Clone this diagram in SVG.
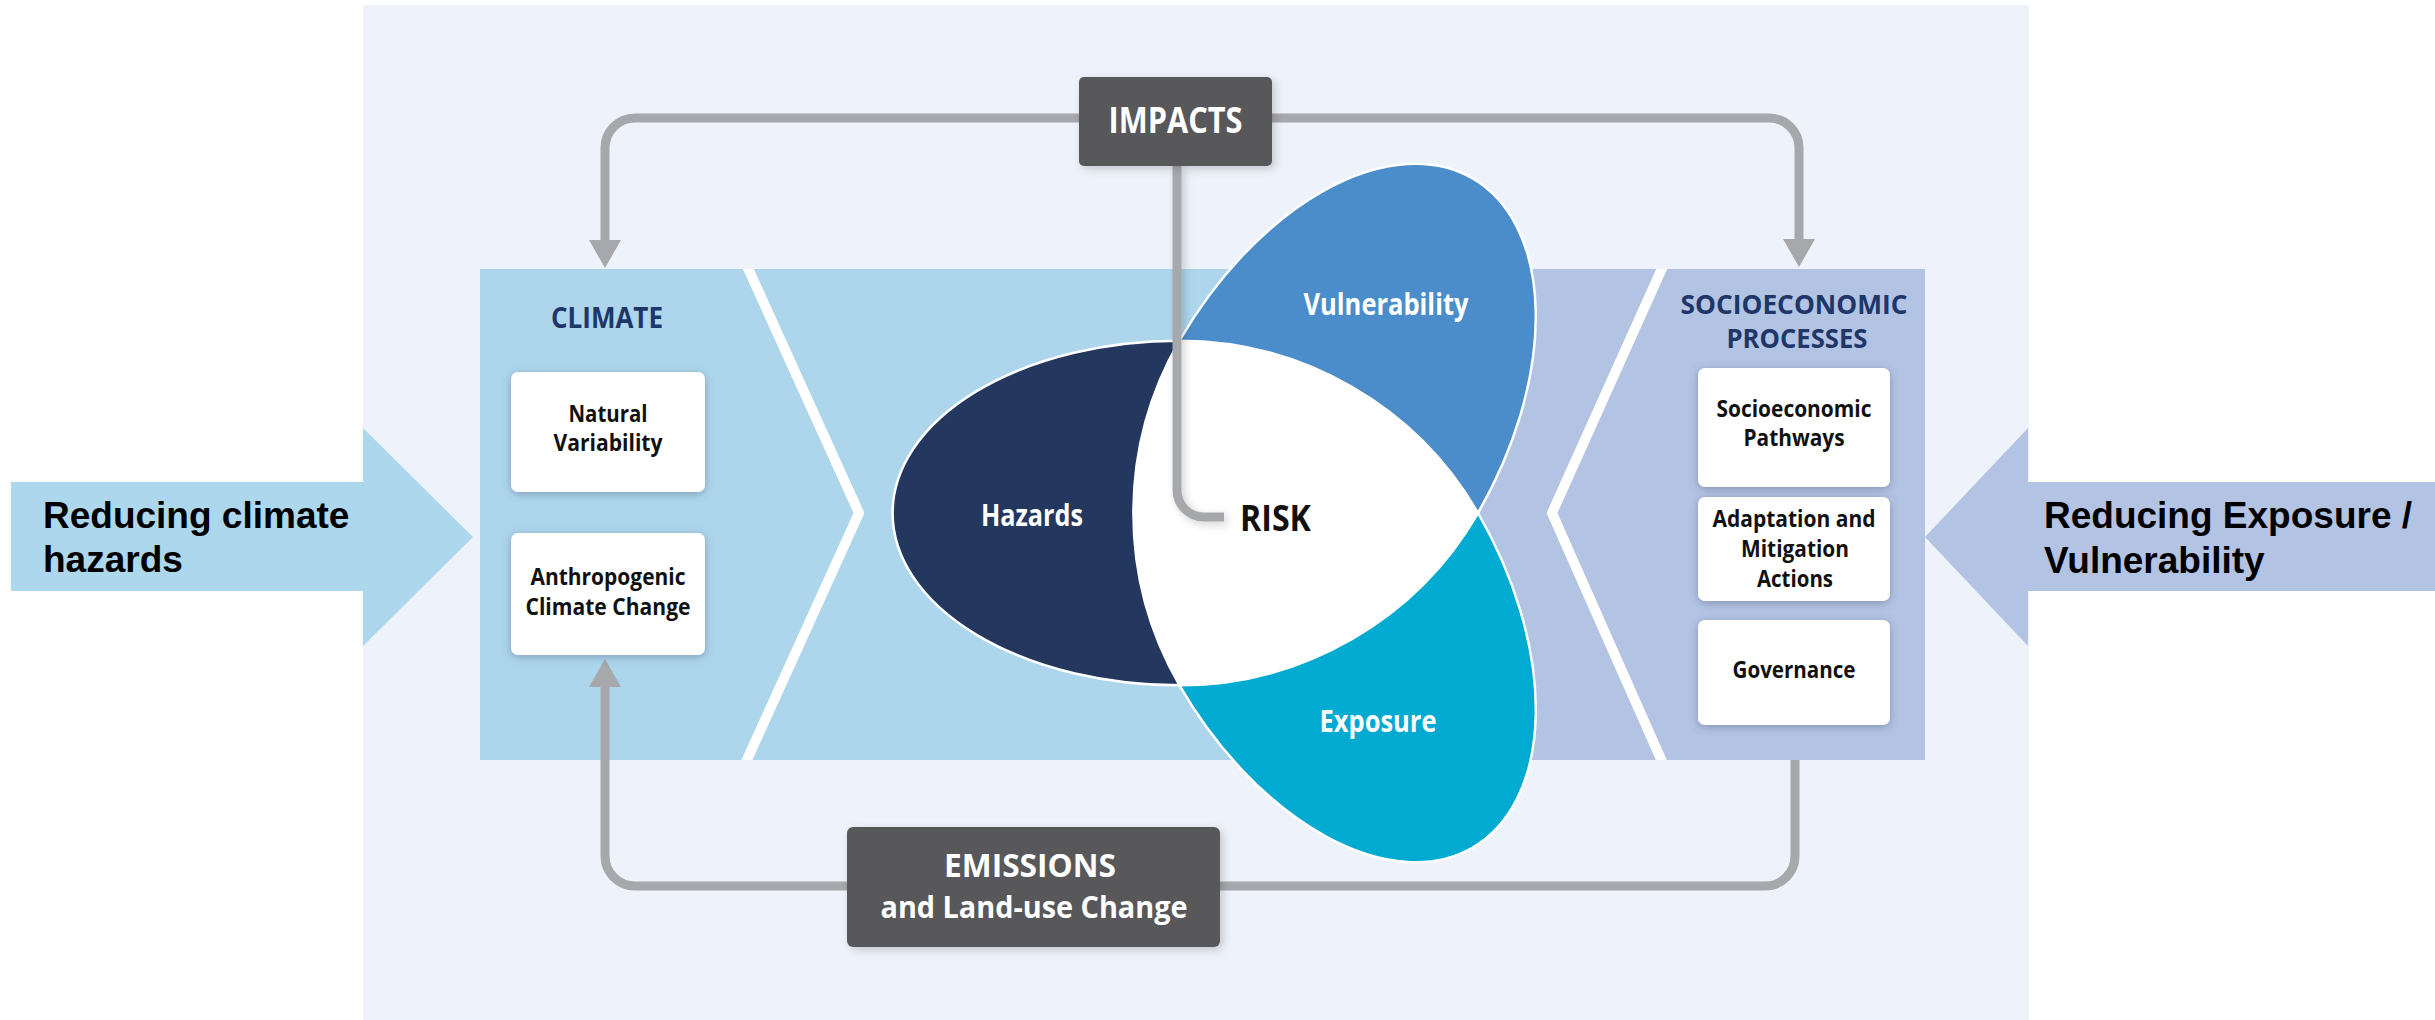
<svg xmlns="http://www.w3.org/2000/svg" width="2435" height="1020" viewBox="0 0 2435 1020">
  <style>
    .lbl { font-family: "Open Sans", "Liberation Sans", sans-serif; font-weight: 700; text-anchor: middle; }
    .dark { fill: #58585A; }
    .white-txt { fill: #FFFFFF; }
    .navy-txt { fill: #1E3668; }
    .box-txt { fill: #111111; font-size: 24px; }
    .card { fill: #FFFFFF; }
    .petal { stroke: #FFFFFF; stroke-width: 2.5; }
    .link { fill: none; stroke: #A6A8AB; stroke-width: 9; }
    .note { font-family: "Liberation Sans", Arial, sans-serif; font-weight: 700; font-size: 37px; fill: #000000; }
  </style>
  <defs>
    <filter id="shadow" x="-20%" y="-20%" width="140%" height="140%">
      <feDropShadow dx="0" dy="2" stdDeviation="4" flood-color="#4A5A7A" flood-opacity="0.45"/>
    </filter>
    <filter id="soft" x="-20%" y="-20%" width="140%" height="140%">
      <feDropShadow dx="3" dy="3" stdDeviation="4" flood-color="#000000" flood-opacity="0.18"/>
    </filter>
    <clipPath id="band">
      <rect x="480" y="269" width="1445" height="491"/>
    </clipPath>
    <marker id="head" markerUnits="userSpaceOnUse" markerWidth="30" markerHeight="34" refX="0" refY="16" orient="auto" viewBox="0 0 30 32">
      <path d="M0,0 L28,16 L0,32 Z" fill="#A6A8AB"/>
    </marker>
  </defs>

  <!-- page background -->
  <rect x="0" y="0" width="2435" height="1020" fill="#FFFFFF"/>
  <rect x="363" y="5" width="1666" height="1015" fill="#EEF2FA"/>

  <!-- side arrows -->
  <g id="reduce-hazards">
    <polygon points="11,482 363,482 363,428 473,537 363,646 363,591 11,591" fill="#ADD7EC"/>
    <text class="note" x="43" y="528">Reducing climate</text>
    <text class="note" x="43" y="572">hazards</text>
  </g>
  <g id="reduce-exposure">
    <polygon points="2435,482 2028,482 2028,428 1925,537 2028,646 2028,591 2435,591" fill="#B3C3E3"/>
    <text class="note" x="2044" y="528">Reducing Exposure /</text>
    <text class="note" x="2044" y="573">Vulnerability</text>
  </g>

  <!-- central band: climate side and socioeconomic side -->
  <g id="band-panels">
    <rect x="480" y="269" width="998" height="491" fill="#ADD6EC"/>
    <rect x="1478" y="269" width="447" height="491" fill="#B3C3E3"/>
    <g clip-path="url(#band)" fill="none" stroke="#FFFFFF" stroke-width="10" stroke-linejoin="round">
      <polyline points="742,255 859,513 740,775"/>
      <polyline points="1668,255 1552,513 1668,775"/>
    </g>
  </g>

  <!-- connectors -->
  <g id="connectors">
    <path class="link" d="M1079,118 H635 A30,30 0 0 0 605,148 V240" marker-end="url(#head)"/>
    <path class="link" d="M1272,118 H1769 A30,30 0 0 1 1799,148 V239" marker-end="url(#head)"/>
    <path class="link" d="M847,886 H635 A30,30 0 0 1 605,856 V687" marker-end="url(#head)"/>
    <path class="link" d="M1795,760 V856 A30,30 0 0 1 1765,886 H1220"/>
  </g>

  <!-- climate -->
  <g id="climate">
    <text class="lbl navy-txt" x="607" y="328" font-size="29" textLength="112" lengthAdjust="spacingAndGlyphs">CLIMATE</text>
  </g>
  <g id="natural-variability">
    <rect class="card" x="511" y="372" width="194" height="120" rx="7" filter="url(#shadow)"/>
    <text class="lbl box-txt" x="608" y="422" textLength="79" lengthAdjust="spacingAndGlyphs">Natural</text>
    <text class="lbl box-txt" x="608" y="451" textLength="109" lengthAdjust="spacingAndGlyphs">Variability</text>
  </g>
  <g id="anthropogenic">
    <rect class="card" x="511" y="533" width="194" height="122" rx="7" filter="url(#shadow)"/>
    <text class="lbl box-txt" x="608" y="585" textLength="155" lengthAdjust="spacingAndGlyphs">Anthropogenic</text>
    <text class="lbl box-txt" x="608" y="615" textLength="165" lengthAdjust="spacingAndGlyphs">Climate Change</text>
  </g>

  <!-- socioeconomic processes -->
  <g id="socioeconomic">
    <text class="lbl navy-txt" x="1794" y="314" font-size="27" textLength="227" lengthAdjust="spacingAndGlyphs">SOCIOECONOMIC</text>
    <text class="lbl navy-txt" x="1797" y="348" font-size="27" textLength="141" lengthAdjust="spacingAndGlyphs">PROCESSES</text>
  </g>
  <g id="pathways">
    <rect class="card" x="1698" y="368" width="192" height="119" rx="7" filter="url(#shadow)"/>
    <text class="lbl box-txt" x="1794" y="417" textLength="155" lengthAdjust="spacingAndGlyphs">Socioeconomic</text>
    <text class="lbl box-txt" x="1794" y="446" textLength="101" lengthAdjust="spacingAndGlyphs">Pathways</text>
  </g>
  <g id="adaptation">
    <rect class="card" x="1698" y="497" width="192" height="104" rx="7" filter="url(#shadow)"/>
    <text class="lbl box-txt" x="1794" y="527" textLength="163" lengthAdjust="spacingAndGlyphs">Adaptation and</text>
    <text class="lbl box-txt" x="1795" y="557" textLength="108" lengthAdjust="spacingAndGlyphs">Mitigation</text>
    <text class="lbl box-txt" x="1795" y="587" textLength="76" lengthAdjust="spacingAndGlyphs">Actions</text>
  </g>
  <g id="governance">
    <rect class="card" x="1698" y="620" width="192" height="105" rx="7" filter="url(#shadow)"/>
    <text class="lbl box-txt" x="1794" y="678" textLength="123" lengthAdjust="spacingAndGlyphs">Governance</text>
  </g>

  <!-- risk propeller -->
  <g id="hazards">
    <path class="petal" fill="#24375F" d="M1179.5,340.7 A287,172.3 0 0 0 1179.5,685.3 A345,345 0 0 1 1179.5,340.7 Z"/>
    <text class="lbl white-txt" x="1032" y="526" font-size="30" textLength="102" lengthAdjust="spacingAndGlyphs">Hazards</text>
  </g>
  <g id="vulnerability">
    <path class="petal" fill="#4B8DCA" d="M1478,513 A287,172.3 -60 0 0 1179.5,340.7 A345,345 0 0 1 1478,513 Z"/>
    <text class="lbl white-txt" x="1386" y="315" font-size="30" textLength="165" lengthAdjust="spacingAndGlyphs">Vulnerability</text>
  </g>
  <g id="exposure">
    <path class="petal" fill="#00AAD0" d="M1179.5,685.3 A287,172.3 60 0 0 1478,513 A345,345 0 0 1 1179.5,685.3 Z"/>
    <text class="lbl white-txt" x="1378" y="732" font-size="30" textLength="117" lengthAdjust="spacingAndGlyphs">Exposure</text>
  </g>
  <g id="risk">
    <path fill="#FFFFFF" d="M1179.5,340.7 A345,345 0 0 1 1478,513 A345,345 0 0 1 1179.5,685.3 A345,345 0 0 1 1179.5,340.7 Z"/>
    <path class="link" d="M1177,166 V490 A27,27 0 0 0 1204,517 H1224" filter="url(#soft)"/>
    <text class="lbl" x="1240" y="531" font-size="35" fill="#111111" textLength="71" lengthAdjust="spacingAndGlyphs" style="text-anchor:start">RISK</text>
  </g>

  <!-- impacts and emissions -->
  <g id="impacts">
    <rect class="dark" x="1079" y="77" width="193" height="89" rx="5" filter="url(#soft)"/>
    <text class="lbl white-txt" x="1175.5" y="133" font-size="35" textLength="134" lengthAdjust="spacingAndGlyphs">IMPACTS</text>
  </g>
  <g id="emissions">
    <rect class="dark" x="847" y="827" width="373" height="120" rx="6" filter="url(#soft)"/>
    <text class="lbl white-txt" x="1030" y="877" font-size="32" textLength="172" lengthAdjust="spacingAndGlyphs">EMISSIONS</text>
    <text class="lbl white-txt" x="1034" y="918" font-size="31" textLength="307" lengthAdjust="spacingAndGlyphs">and Land-use Change</text>
  </g>
</svg>
